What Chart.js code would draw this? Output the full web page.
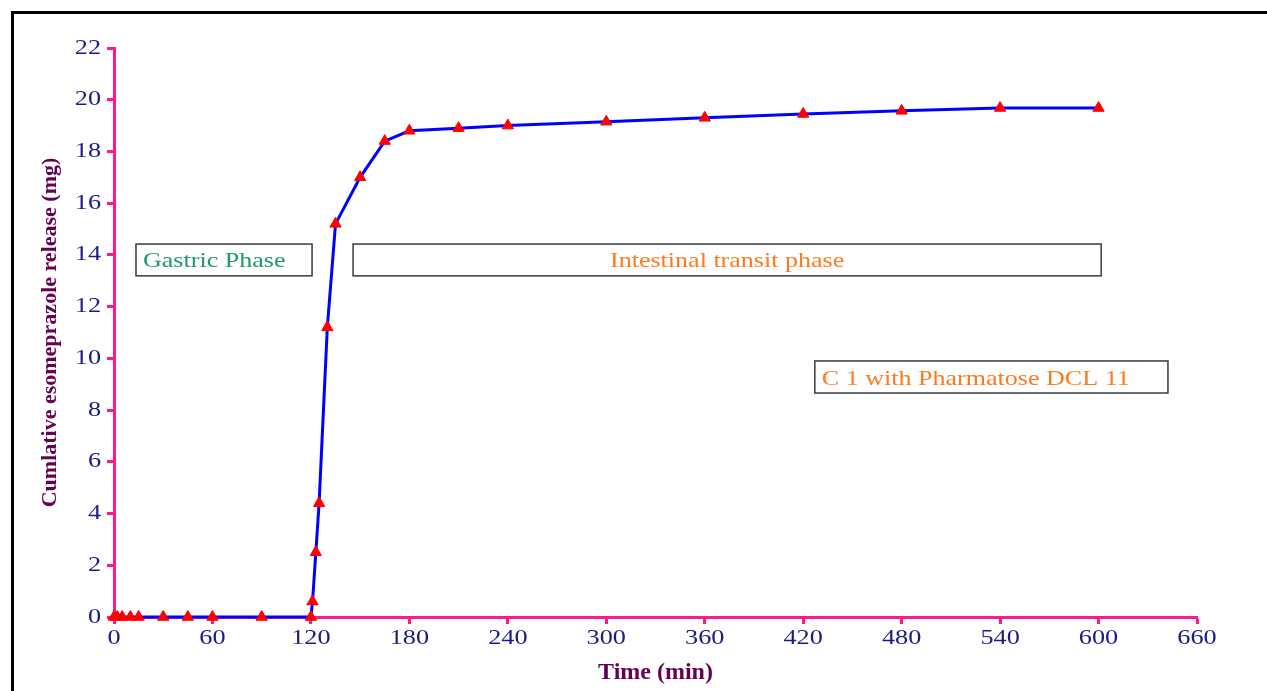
<!DOCTYPE html>
<html>
<head>
<meta charset="utf-8">
<script src="https://cdn.jsdelivr.net/npm/chart.js@4/dist/chart.umd.min.js"></script>
<style>
  html, body { margin: 0; padding: 0; background: #fff; }
  #wrap { position: relative; width: 1267px; height: 691px; }
</style>
</head>
<body>
<div id="wrap"><canvas id="c"></canvas></div>
<script>
// time points (min) and cumulative release (mg)
const times = [0, 2, 5, 10, 15, 30, 45, 60, 90, 120, 121, 123, 125, 130, 135, 150, 165, 180, 210, 240, 300, 360, 420, 480, 540, 600];
const release = [0, 0, 0, 0, 0, 0, 0, 0, 0, 0, 0.6, 2.5, 4.4, 11.2, 15.2, 17.0, 18.4, 18.8, 18.9, 19.0, 19.15, 19.3, 19.45, 19.57, 19.68, 19.68];
const xTicks = [0, 60, 120, 180, 240, 300, 360, 420, 480, 540, 600, 660];
const yTicks = [0, 2, 4, 6, 8, 10, 12, 14, 16, 18, 20, 22];

// text boxes in data units: [xFrom, xTo, yTop, yBottom]
const boxLabels = ["Gastric Phase", "Intestinal transit phase", "C 1 with Pharmatose DCL 11"];
const boxRanges = [[13.4, 120.7, 14.42, 13.19], [145.7, 601.6, 14.42, 13.19], [427.1, 642.3, 9.9, 8.66]];

const pink = "#ff1a8c";
const navy = "#1b1b86";
const purple = "#650055";
const serif = "'Liberation Serif', 'DejaVu Serif', serif";

// draws text squeezed/stretched sideways like the original figure
function wideText(ctx, txt, x, y, align, sx) {
  ctx.save();
  ctx.translate(x, y);
  ctx.scale(sx, 1);
  ctx.textAlign = align;
  ctx.fillText(txt, 0, 0);
  ctx.restore();
}

const framePlugin = {
  id: "frame",
  beforeDraw(chart) {
    const ctx = chart.ctx;
    ctx.save();
    ctx.fillStyle = "#fff";
    ctx.fillRect(0, 0, chart.width, chart.height);
    ctx.strokeStyle = "#000";
    ctx.lineWidth = 3;
    ctx.strokeRect(12.5, 12.5, chart.width + 20, chart.height + 20);
    ctx.restore();
  }
};

const tickPlugin = {
  id: "tickText",
  afterDraw(chart) {
    const ctx = chart.ctx;
    const xs = chart.scales.x, ys = chart.scales.y;
    ctx.save();
    ctx.fillStyle = navy;
    ctx.font = "21px " + serif;
    ctx.textBaseline = "middle";
    xs.ticks.forEach(t => {
      wideText(ctx, String(t.value), xs.getPixelForValue(t.value), ys.bottom + 21, "center", 1.25);
    });
    ys.ticks.forEach(t => {
      wideText(ctx, String(t.value), xs.left - 13, ys.getPixelForValue(t.value), "right", 1.25);
    });
    ctx.restore();
  }
};

const boxPlugin = {
  id: "boxes",
  afterDatasetsDraw(chart) {
    const ctx = chart.ctx;
    const xs = chart.scales.x, ys = chart.scales.y;
    const styles = [
      { color: "#1f9a68", align: "left" },
      { color: "#ff7a1f", align: "center" },
      { color: "#ff7a1f", align: "left" }
    ];
    ctx.save();
    boxLabels.forEach((txt, i) => {
      const r = boxRanges[i];
      const x0 = xs.getPixelForValue(r[0]), x1 = xs.getPixelForValue(r[1]);
      const y0 = ys.getPixelForValue(r[2]), y1 = ys.getPixelForValue(r[3]);
      ctx.fillStyle = "#fff";
      ctx.fillRect(x0, y0, x1 - x0, y1 - y0);
      ctx.strokeStyle = "#3a3a3a";
      ctx.lineWidth = 1.5;
      ctx.strokeRect(x0, y0, x1 - x0, y1 - y0);
      ctx.fillStyle = styles[i].color;
      ctx.font = "21px " + serif;
      ctx.textBaseline = "middle";
      const cy = (y0 + y1) / 2 + 2;
      if (styles[i].align === "center") {
        wideText(ctx, txt, (x0 + x1) / 2, cy, "center", 1.24);
      } else {
        wideText(ctx, txt, x0 + 7, cy, "left", 1.24);
      }
    });
    ctx.restore();
  }
};

new Chart(document.getElementById("c"), {
  type: "scatter",
  data: {
    datasets: [{
      data: times.map((t, i) => ({ x: t, y: release[i] })),
      showLine: true,
      clip: false,
      borderColor: "#0000ff",
      borderWidth: 3,
      pointStyle: "triangle",
      pointRadius: 6.5,
      pointBackgroundColor: "#ff0000",
      pointBorderColor: "#ff0000",
      pointBorderWidth: 1,
      tension: 0
    }]
  },
  options: {
    responsive: true,
    maintainAspectRatio: false,
    animation: false,
    layout: { padding: { left: 34, top: 48, right: 70, bottom: 0 } },
    plugins: { legend: { display: false }, tooltip: { enabled: false } },
    scales: {
      x: {
        type: "linear",
        min: 0, max: 660,
        afterBuildTicks: s => { s.ticks = xTicks.map(v => ({ value: v })); },
        afterFit: s => { s.height = 74; },
        border: { color: pink, width: 3 },
        grid: { drawOnChartArea: false, drawTicks: true, tickLength: 7, tickWidth: 3, color: pink },
        ticks: { color: "rgba(0,0,0,0)", font: { family: serif, size: 21 }, padding: 3, maxRotation: 0 },
        title: { display: true, text: "Time (min)", color: purple, font: { family: serif, size: 24, weight: "bold" }, padding: { top: 0, bottom: 4 } }
      },
      y: {
        min: 0, max: 22,
        afterBuildTicks: s => { s.ticks = yTicks.map(v => ({ value: v })); },
        afterFit: s => { s.width = 80; },
        border: { color: pink, width: 3 },
        grid: { drawOnChartArea: false, drawTicks: true, tickLength: 7, tickWidth: 3, color: pink },
        ticks: { color: "rgba(0,0,0,0)", font: { family: serif, size: 21 }, padding: 4 },
        title: { display: true, text: "Cumlative esomeprazole release (mg)", color: purple, font: { family: serif, size: 22, weight: "bold" }, padding: { top: 3, bottom: 4 } }
      }
    }
  },
  plugins: [framePlugin, tickPlugin, boxPlugin]
});
</script>
</body>
</html>
